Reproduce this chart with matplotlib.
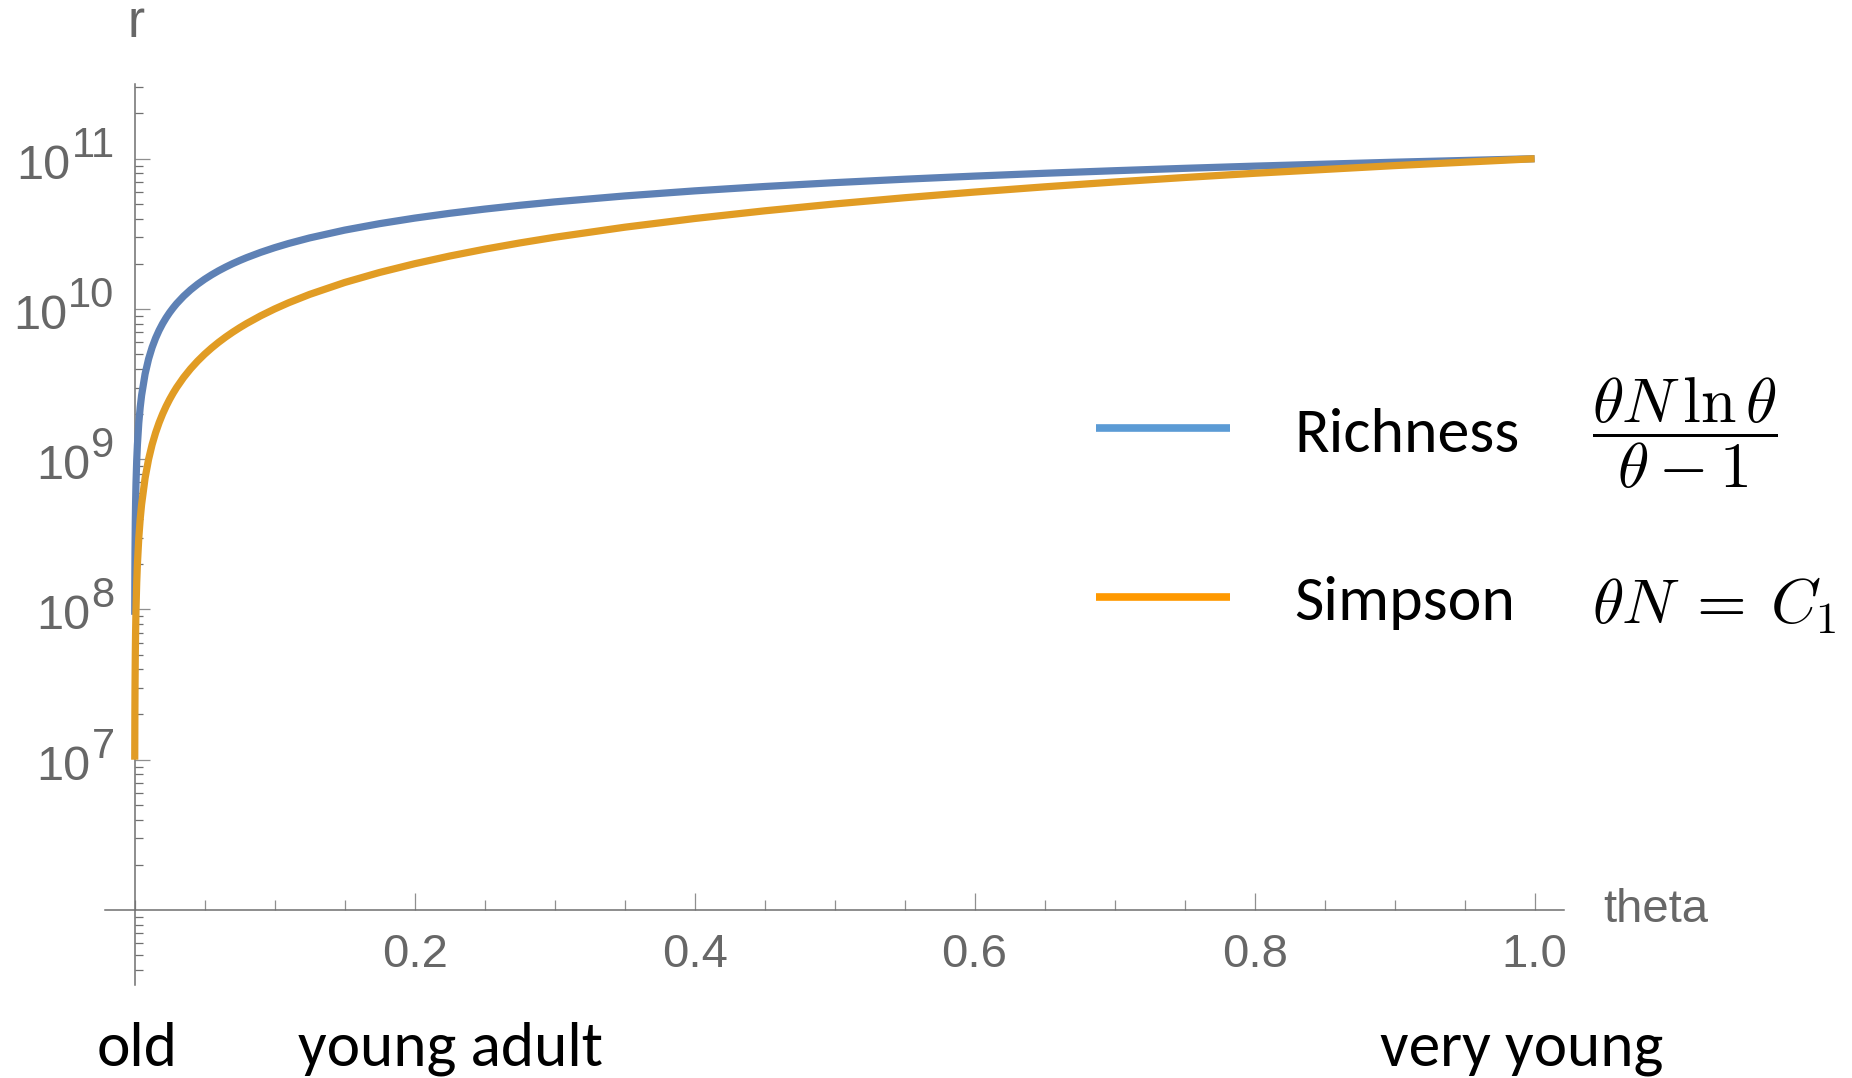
import matplotlib
matplotlib.use("Agg")
import numpy as np
import matplotlib.pyplot as plt
from matplotlib.lines import Line2D
from matplotlib.ticker import FixedLocator, MultipleLocator, LogLocator, NullFormatter

# theta values and the two r curves (log-scaled y)
theta = [0.0001, 0.0002, 0.0003, 0.0005, 0.0007, 0.001, 0.0015, 0.002, 0.003,
         0.004, 0.005, 0.0075, 0.01, 0.0125, 0.015, 0.0175, 0.02, 0.0225,
         0.025, 0.0275, 0.03, 0.035, 0.04, 0.045, 0.05, 0.055, 0.06, 0.065,
         0.07, 0.075, 0.08, 0.09, 0.1, 0.11, 0.125, 0.15, 0.175, 0.2, 0.225,
         0.25, 0.275, 0.3, 0.35, 0.4, 0.45, 0.5, 0.55, 0.6, 0.65, 0.7, 0.75,
         0.8, 0.9, 1.0]
richness = [9.21e7, 1.704e8, 2.434e8, 3.802e8, 5.089e8, 6.915e8, 9.768e8,
            1.245e9, 1.748e9, 2.217e9, 2.662e9, 3.697e9, 4.652e9, 5.547e9,
            6.396e9, 7.206e9, 7.984e9, 8.733e9, 9.459e9, 1.016e10, 1.085e10,
            1.216e10, 1.341e10, 1.461e10, 1.577e10, 1.688e10, 1.796e10,
            1.900e10, 2.002e10, 2.100e10, 2.196e10, 2.381e10, 2.558e10,
            2.728e10, 2.971e10, 3.348e10, 3.697e10, 4.024e10, 4.331e10,
            4.621e10, 4.897e10, 5.160e10, 5.653e10, 6.109e10, 6.533e10,
            6.931e10, 7.306e10, 7.662e10, 8.001e10, 8.322e10, 8.631e10,
            8.926e10, 9.482e10, 1.0e11]
simpson = [1.0e7, 2.0e7, 3.0e7, 5.0e7, 7.0e7, 1.0e8, 1.5e8, 2.0e8, 3.0e8,
           4.0e8, 5.0e8, 7.5e8, 1.0e9, 1.25e9, 1.5e9, 1.75e9, 2.0e9, 2.25e9,
           2.5e9, 2.75e9, 3.0e9, 3.5e9, 4.0e9, 4.5e9, 5.0e9, 5.5e9, 6.0e9,
           6.5e9, 7.0e9, 7.5e9, 8.0e9, 9.0e9, 1.0e10, 1.1e10, 1.25e10,
           1.5e10, 1.75e10, 2.0e10, 2.25e10, 2.5e10, 2.75e10, 3.0e10, 3.5e10,
           4.0e10, 4.5e10, 5.0e10, 5.5e10, 6.0e10, 6.5e10, 7.0e10, 7.5e10,
           8.0e10, 9.0e10, 1.0e11]

x_tick_values = [0.2, 0.4, 0.6, 0.8, 1.0]
x_tick_labels = ["0.2", "0.4", "0.6", "0.8", "1.0"]
y_exponents = [7, 8, 9, 10, 11]

series_names = ["Richness", "Simpson"]
series_formulas = [r"$\dfrac{\theta N\,\ln\theta}{\theta-1}$",
                   r"$\theta N\:=\:C_1$"]
age_labels = ["old", "young adult", "very young"]

CURVE_BLUE = "#5E81B5"
CURVE_ORANGE = "#E19C24"
KEY_BLUE = "#5B9BD5"
KEY_ORANGE = "#FF9900"
AXIS_GRAY = "#6f6f6f"
TICK_GRAY = "#8f8f8f"
LABEL_GRAY = "#676767"

plt.rcParams["mathtext.fontset"] = "cm"

W, H, DPI = 1852, 1078, 100
fig = plt.figure(figsize=(W / DPI, H / DPI), dpi=DPI)

# axes box in pixels: x from -0.021..1.021, y from 10^5.5..10^11.5
left_px, right_px = 105.2, 1564.0
top_px, bottom_px = 83.6, 985.1
ax = fig.add_axes([left_px / W, (H - bottom_px) / H,
                   (right_px - left_px) / W, (bottom_px - top_px) / H])
ax.set_facecolor("none")
ax.set_yscale("log")
ax.set_xlim(-0.021, 1.021)
ax.set_ylim(10 ** 5.5, 10 ** 11.5)

# crossing axes through theta = 0 and r = 10^6
for side in ("top", "right"):
    ax.spines[side].set_visible(False)
ax.spines["left"].set_position(("data", 0))
ax.spines["bottom"].set_position(("data", 1e6))
for side in ("left", "bottom"):
    ax.spines[side].set_color(AXIS_GRAY)
    ax.spines[side].set_linewidth(1.1)

ax.xaxis.set_major_locator(FixedLocator(x_tick_values))
ax.xaxis.set_minor_locator(MultipleLocator(0.05))
ax.set_xticklabels(x_tick_labels, fontsize=34, family="Liberation Sans",
                   color=LABEL_GRAY)
ax.yaxis.set_major_locator(FixedLocator([10.0 ** e for e in y_exponents]))
ax.yaxis.set_minor_locator(LogLocator(base=10, subs=np.arange(2, 10), numticks=60))
ax.yaxis.set_major_formatter(NullFormatter())
ax.yaxis.set_minor_formatter(NullFormatter())

ax.tick_params(axis="x", which="major", direction="in", length=12.2, width=0.9,
               color=TICK_GRAY, pad=16.6)
ax.tick_params(axis="x", which="minor", direction="in", length=7.2, width=0.9,
               color=TICK_GRAY)
ax.tick_params(axis="y", which="major", direction="in", length=10.8, width=0.9,
               color=TICK_GRAY)
ax.tick_params(axis="y", which="minor", direction="in", length=5.5, width=0.9,
               color=AXIS_GRAY)

# curves
ax.plot(theta, richness, color=CURVE_BLUE, lw=5.2, solid_capstyle="butt",
        solid_joinstyle="round", clip_on=False, zorder=3)
ax.plot(theta, simpson, color=CURVE_ORANGE, lw=5.2, solid_capstyle="butt",
        solid_joinstyle="round", clip_on=False, zorder=4)

# y tick labels: "10" with a large raised exponent
renderer = fig.canvas.get_renderer()
for e in y_exponents:
    sup = ax.annotate(str(e), xy=(0, 10.0 ** e), xycoords="data",
                      xytext=(-20, 2), textcoords="offset pixels",
                      ha="right", va="baseline", fontsize=30,
                      family="Liberation Sans", color=LABEL_GRAY)
    w = sup.get_window_extent(renderer).width
    ax.annotate("10", xy=(0, 10.0 ** e), xycoords="data",
                xytext=(-20 - w - 1, -20), textcoords="offset pixels",
                ha="right", va="baseline", fontsize=35,
                family="Liberation Sans", color=LABEL_GRAY)

# axis names
ax.annotate("theta", xy=(1.0, 1e6), xycoords=("axes fraction", "data"),
            xytext=(39, -12), textcoords="offset pixels", ha="left",
            va="baseline", fontsize=34, family="Liberation Sans",
            color=LABEL_GRAY)
ax.annotate("r", xy=(0, 1.0), xycoords=("data", "axes fraction"),
            xytext=(1, 47), textcoords="offset pixels", ha="center",
            va="baseline", fontsize=37, family="Liberation Sans",
            color=LABEL_GRAY, annotation_clip=False)

# key: coloured strokes, names and formulas
key_rows = [(KEY_BLUE, 427.6, 452.0), (KEY_ORANGE, 596.5, 620.0)]
for (col, y_line, y_base), name in zip(key_rows, series_names):
    fig.add_artist(Line2D([1096 / W, 1230 / W], [(H - y_line) / H] * 2,
                          color=col, lw=5.5, solid_capstyle="butt"))
    fig.text(1294 / W, (H - y_base) / H, name, fontsize=46, family="Carlito",
             color="black", ha="left", va="baseline")
fig.text(1592 / W, (H - 433.0) / H, series_formulas[0], fontsize=46,
         color="black", ha="left", va="center")
fig.text(1592 / W, (H - 623.6) / H, series_formulas[1], fontsize=46,
         color="black", ha="left", va="baseline")

# age annotations under the theta axis
for label, x_px in zip(age_labels, [97, 298, 1380]):
    fig.text(x_px / W, (H - 1066) / H, label, fontsize=45.5, family="Carlito",
             color="black", ha="left", va="baseline")

fig.savefig("out.png", dpi=DPI)
